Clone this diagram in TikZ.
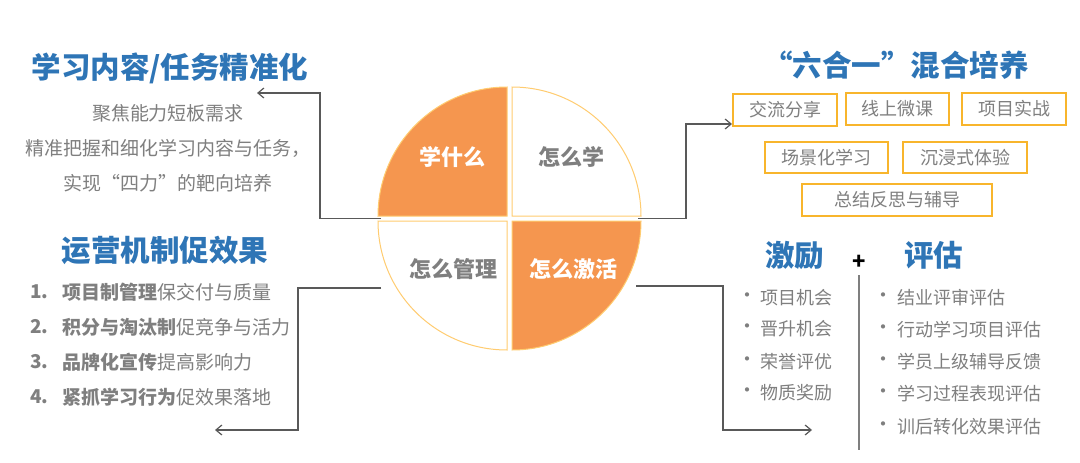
\documentclass[tikz,border=0pt]{standalone}
\usepackage{fontspec}
\setmainfont{Noto Sans CJK SC}
\usetikzlibrary{arrows.meta}
\definecolor{orfill}{HTML}{F5964F}
\definecolor{pieedge}{HTML}{FFCC70}
\definecolor{tblue}{HTML}{2E75B6}
\definecolor{tgray}{HTML}{7F7F7F}
\definecolor{lgray}{HTML}{595959}
\definecolor{boxedge}{HTML}{F8B52C}
\newcommand\fsz[1]{\fontsize{#1}{#1}\selectfont}
\newcommand\oq{\makebox[1em][r]{“}}
\newcommand\cq{\makebox[1em][l]{”}}
\tikzset{
  title/.style={inner sep=0pt, text=tblue, font=\fsz{29.5}\bfseries},
  desc/.style={inner sep=0pt, text=tgray, font=\fsz{19}},
  listtxt/.style={inner sep=0pt, text=tgray, font=\fsz{19}, anchor=west},
  bultxt/.style={inner sep=0pt, text=tgray, font=\fsz{18}, anchor=west},
  bul/.style={inner sep=0pt, text=tgray, font=\fsz{20}},
  pielab/.style={inner sep=0pt, font=\fsz{22}\bfseries},
  tagbox/.style={draw=boxedge, line width=2pt, text=tgray, font=\fsz{18}, inner sep=0pt, minimum height=32pt},
  quad/.style={draw=pieedge, line width=1pt},
  conn/.style={draw=lgray, line width=1.3pt, -{Straight Barb[length=6pt,width=10pt,line width=1.2pt]}},
}
\begin{document}
\begin{tikzpicture}[x=1pt,y=-1pt]
\useasboundingbox[fill=white] (0,0) rectangle (1080,463);

% pie quadrants
\path[quad, fill=orfill] (507,216) -- (378,216) arc[start angle=180, end angle=270, radius=129] -- cycle;
\path[quad, fill=white] (512,216) -- (512,87) arc[start angle=270, end angle=360, radius=129] -- cycle;
\path[quad, fill=white] (507,221) -- (507,350) arc[start angle=90, end angle=180, radius=129] -- cycle;
\path[quad, fill=orfill] (512,221) -- (641,221) arc[start angle=0, end angle=90, radius=129] -- cycle;

\node[pielab, text=white] (q1) at (452,157) {学什么};
\node[pielab, text=tgray] (q2) at (571,157) {怎么学};
\node[pielab, text=tgray] (q3) at (453,269) {怎么管理};
\node[pielab, text=white] (q4) at (573,269) {怎么激活};

% left top
\node[title] (title1) at (170,68) {学习内容/任务精准化};
\node[desc] (d1) at (168,113) {聚焦能力短板需求};
\node[desc] (d2) at (168,148) {精准把握和细化学习内容与任务，};
\node[desc] (d3) at (168,183) {实现\oq 四力\cq 的靶向培养};

% left bottom
\node[title] (title2) at (165,250) {运营机制促效果};
\foreach \i/\y/\a/\b in {1/292/项目制管理/保交付与质量, 2/327/积分与淘汰制/促竞争与活力, 3/362/品牌化宣传/提高影响力, 4/397/紧抓学习行为/促效果落地}{
  \node[listtxt, font=\fsz{19}\bfseries] (n\i) at (30,\y) {\i.};
  \node[listtxt] (l\i) at (62,\y) {\textbf{\a}\b};
}

% right top
\node[title] (title3) at (896,65) {\oq 六合一\cq 混合培养};
\node[tagbox, minimum width=104pt] (b1) at (785,110) {交流分享};
\node[tagbox, minimum width=103pt] (b2) at (897.5,109) {线上微课};
\node[tagbox, minimum width=104pt] (b3) at (1014,109) {项目实战};
\node[tagbox, minimum width=123pt, minimum height=31pt] (b4) at (826.5,157.5) {场景化学习};
\node[tagbox, minimum width=124pt, minimum height=31pt] (b5) at (965,157.5) {沉浸式体验};
\node[tagbox, minimum width=190pt] (b6) at (897,200) {总结反思与辅导};

% right bottom
\node[title] (tJ) at (794.5,255) {激励};
\node[title] (tP) at (933.5,255) {评估};
\node[inner sep=0pt, font=\fsz{22}\bfseries] (plus) at (859,262) {+};
\coordinate (vtop) at (859,275);
\coordinate (vbot) at (859,450);
\draw[tgray, line width=1.2pt] (vtop) -- (vbot);

\foreach \i/\y/\t in {1/298/项目机会, 2/329/晋升机会, 3/362/荣誉评优, 4/393/物质奖励}{
  \node[bul] (eb\i) at (747,\y) {•};
  \node[bultxt] (e\i) at (760,\y) {\t};
}
\foreach \i/\y/\t in {1/298/结业评审评估, 2/330/行动学习项目评估, 3/362/学员上级辅导反馈, 4/394/学习过程表现评估, 5/427/训后转化效果评估}{
  \node[bul] (fb\i) at (883,\y) {•};
  \node[bultxt] (f\i) at (897,\y) {\t};
}

% connectors
\coordinate (s1) at (381,218.5);
\coordinate (t1) at (257,93);
\draw[conn] (s1) -- (320,218.5) |- (t1);
\coordinate (s2) at (381,288);
\coordinate (t2) at (215,430);
\draw[conn] (s2) -- (298,288) |- (t2);
\coordinate (s3) at (638,218.5);
\draw[conn] (s3) -- (686,218.5) |- (b1.west |- 0,124);
\coordinate (s4) at (636,286);
\coordinate (t4) at (812,430);
\draw[conn] (s4) -- (723,286) |- (t4);
\end{tikzpicture}
\end{document}
